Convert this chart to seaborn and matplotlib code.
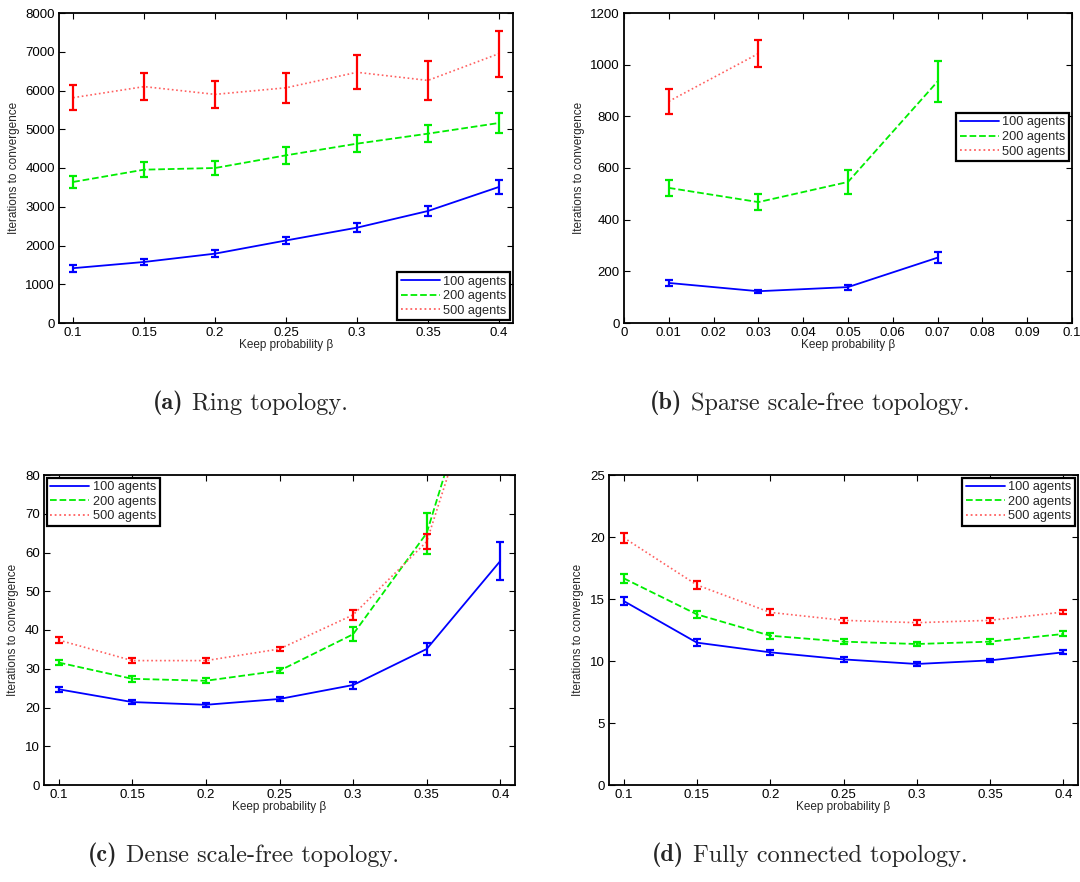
import numpy as np
import pandas as pd
import matplotlib
matplotlib.use("Agg")
import matplotlib.pyplot as plt
import seaborn as sns
from matplotlib.ticker import FuncFormatter, MultipleLocator
from matplotlib.text import Annotation

# ---------------- data ----------------
series_names = ["100 agents", "200 agents", "500 agents"]

# (a) Ring topology
a_x = [0.1, 0.15, 0.2, 0.25, 0.3, 0.35, 0.4]
a_100 = [1415, 1575, 1790, 2130, 2460, 2890, 3510]
a_100_err = [90, 75, 90, 100, 120, 140, 170]
a_200 = [3640, 3957, 4000, 4327, 4628, 4886, 5161]
a_200_err = [160, 190, 190, 220, 215, 225, 260]
a_500 = [5815, 6100, 5900, 6070, 6470, 6260, 6950]
a_500_err = [320, 350, 355, 385, 440, 510, 590]

# (b) Sparse scale-free topology
b_x_100 = [0.01, 0.03, 0.05, 0.07]
b_100 = [155, 123, 139, 253]
b_100_err = [10, 6, 10, 20]
b_x_200 = [0.01, 0.03, 0.05, 0.07]
b_200 = [523, 468, 546, 935]
b_200_err = [30, 30, 45, 78]
b_x_500 = [0.01, 0.03]
b_500 = [858, 1043]
b_500_err = [48, 52]

# (c) Dense scale-free topology
c_x = [0.1, 0.15, 0.2, 0.25, 0.3, 0.35, 0.4]
c_100 = [24.7, 21.4, 20.7, 22.2, 25.8, 35.1, 57.8]
c_100_err = [0.6, 0.5, 0.5, 0.5, 0.9, 1.5, 4.8]
c_200 = [31.6, 27.4, 26.9, 29.5, 38.9, 65.0, 127.0]
c_200_err = [0.7, 0.7, 0.6, 0.7, 1.8, 5.3, 10.0]
c_500 = [37.4, 32.1, 32.1, 35.1, 43.9, 62.8, 122.0]
c_500_err = [0.7, 0.6, 0.6, 0.6, 1.2, 2.0, 8.0]

# (d) Fully connected topology
d_x = [0.1, 0.15, 0.2, 0.25, 0.3, 0.35, 0.4]
d_100 = [14.84, 11.48, 10.70, 10.13, 9.76, 10.05, 10.70]
d_100_err = [0.35, 0.3, 0.2, 0.2, 0.15, 0.15, 0.15]
d_200 = [16.67, 13.76, 12.04, 11.56, 11.37, 11.56, 12.18]
d_200_err = [0.35, 0.3, 0.25, 0.2, 0.2, 0.2, 0.2]
d_500 = [19.95, 16.13, 13.92, 13.28, 13.09, 13.28, 13.95]
d_500_err = [0.4, 0.35, 0.25, 0.2, 0.2, 0.2, 0.15]

captions_bold = ["(a)", "(b)", "(c)", "(d)"]
captions_text = ["Ring topology.", "Sparse scale-free topology.",
                 "Dense scale-free topology.", "Fully connected topology."]
xlabel = "Keep probability \u03b2"
ylabel = "Iterations to convergence"

# ---------------- style ----------------
sns.set_theme(style="ticks")
plt.rcParams["font.family"] = ["Liberation Sans", "DejaVu Sans"]
plt.rcParams.update({
    "xtick.direction": "in", "ytick.direction": "in",
    "xtick.top": True, "ytick.right": True,
    "xtick.major.size": 4, "ytick.major.size": 4,
    "xtick.major.width": 0.8, "ytick.major.width": 0.8,
    "axes.linewidth": 1.3, "axes.edgecolor": "black",
    "xtick.color": "black", "ytick.color": "black",
    "xtick.labelsize": 9.5, "ytick.labelsize": 9.5,
    "axes.labelsize": 8.5,
})

colors = ["#0000ff", "#00ee00", "#ff0000"]
line_colors = ["#0000ff", "#00ee00", "#ff6060"]
styles = ["-", "--", (0, (1.0, 1.6))]
lws = [1.3, 1.3, 1.2]

W, H = 1080, 882
fig = plt.figure(figsize=(W / 100, H / 100), dpi=100)

def px_axes(l, r, t, b):
    return fig.add_axes([l / W, (H - b) / H, (r - l) / W, (b - t) / H])

fmt = FuncFormatter(lambda v, p: "%g" % round(v, 6))

def draw(ax, xs, ys, errs, xlim, ylim, ystep, xticks, legend_loc, legend_anchor=None):
    frames = []
    for name, x, y in zip(series_names, xs, ys):
        frames.append(pd.DataFrame({"beta": x, "iters": y, "series": name}))
    df = pd.concat(frames, ignore_index=True)
    for i, name in enumerate(series_names):
        sub = df[df.series == name]
        sns.lineplot(data=sub, x="beta", y="iters", ax=ax, color=line_colors[i],
                     linestyle=styles[i], linewidth=lws[i], label=name,
                     estimator=None, sort=False)
        ax.errorbar(sub["beta"], sub["iters"], yerr=errs[i], fmt="none",
                    ecolor=colors[i], elinewidth=1.6, capsize=3.2, capthick=1.6)
    ax.set_xlim(*xlim)
    ax.set_ylim(*ylim)
    ax.set_xticks(xticks)
    ax.yaxis.set_major_locator(MultipleLocator(ystep))
    ax.xaxis.set_major_formatter(fmt)
    ax.yaxis.set_major_formatter(fmt)
    ax.tick_params(axis="both", pad=3)
    ax.set_xlabel(xlabel, labelpad=0)
    ax.set_ylabel(ylabel, labelpad=4)
    kw = dict(loc=legend_loc, fontsize=9.2, frameon=True, fancybox=False,
              framealpha=1, edgecolor="black", handlelength=3.0,
              handletextpad=0.3, borderpad=0.3, labelspacing=0.2,
              borderaxespad=0.2)
    if legend_anchor is not None:
        kw["bbox_to_anchor"] = legend_anchor
    leg = ax.legend(**kw)
    leg.get_frame().set_linewidth(1.6)
    for ln in leg.get_lines():
        ln.set_linewidth(1.3)

ax_a = px_axes(59, 513, 13, 323)
draw(ax_a, [a_x, a_x, a_x], [a_100, a_200, a_500], [a_100_err, a_200_err, a_500_err],
     (0.09, 0.41), (0, 8000), 1000, a_x, "lower right")

ax_b = px_axes(624, 1072, 13, 323)
draw(ax_b, [b_x_100, b_x_200, b_x_500], [b_100, b_200, b_500],
     [b_100_err, b_200_err, b_500_err],
     (0, 0.1), (0, 1200), 200, np.round(np.arange(0, 0.1001, 0.01), 2),
     "center right", (1.0, 0.6))

ax_c = px_axes(44, 515, 475, 785)
draw(ax_c, [c_x, c_x, c_x], [c_100, c_200, c_500], [c_100_err, c_200_err, c_500_err],
     (0.09, 0.41), (0, 80), 10, c_x, "upper left")

ax_d = px_axes(609, 1078, 475, 785)
draw(ax_d, [d_x, d_x, d_x], [d_100, d_200, d_500], [d_100_err, d_200_err, d_500_err],
     (0.09, 0.41), (0, 25), 5, d_x, "upper right")

# captions
cap_pos = [(153, 403), (650, 403), (88, 855), (652, 855)]
for (cx, cy), b, t in zip(cap_pos, captions_bold, captions_text):
    t1 = fig.text(cx / W, 1 - cy / H, b, fontfamily="cmb10", fontsize=17.5,
                  va="center", ha="left")
    ann = Annotation(t, xy=(1, 0), xycoords=t1, xytext=(6, 0),
                     textcoords="offset points", fontfamily="cmr10",
                     fontsize=17.5, va="bottom", ha="left")
    fig.add_artist(ann)

fig.savefig("out.png", dpi=100)
